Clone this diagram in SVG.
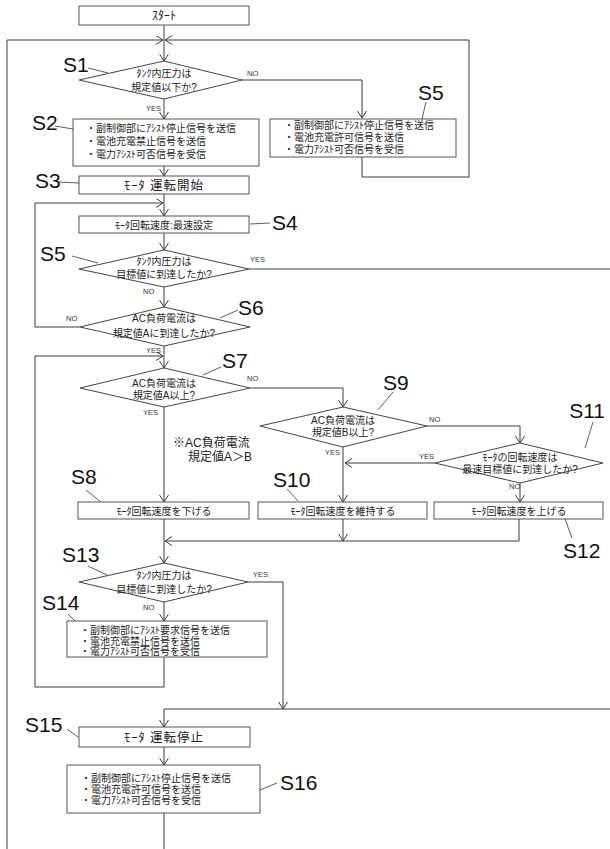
<svg xmlns="http://www.w3.org/2000/svg" width="610" height="849" viewBox="0 0 610 849">
  <style>
    .bg { fill: #ffffff; }
    .box { fill: #ffffff; stroke: #555555; stroke-width: 1; }
    .dia { fill: #ffffff; stroke: #444444; stroke-width: 1; }
    .ln { fill: none; stroke: #3a3a3a; stroke-width: 1; }
    .arr { fill: none; stroke: #3a3a3a; stroke-width: 1; marker-end: url(#ah); }
    .lead { fill: none; stroke: #333333; stroke-width: 0.8; }
    .jp { font-family: "Liberation Sans", "Noto Sans CJK JP", sans-serif; font-size: 10px; fill: #222222; }
    .mid { text-anchor: middle; }
    .end { text-anchor: end; }
    .big { font-size: 12.5px; letter-spacing: 1px; }
    .title { font-size: 12px; }
    .note { font-size: 12px; }
    .yn { font-family: "Liberation Sans", Arial, sans-serif; font-size: 7.5px; fill: #333333; }
    .step { font-family: "Liberation Sans", Arial, sans-serif; font-size: 21px; fill: #111111; }
  </style>
  <defs>
    <marker id="ah" markerUnits="userSpaceOnUse" markerWidth="10" markerHeight="10" refX="7" refY="4.5" orient="auto" viewBox="0 0 10 10">
      <path d="M0,0 L7,4.5 L0,9" fill="none" stroke="#3a3a3a" stroke-width="1"/>
    </marker>
  </defs>
  <rect class="bg" x="0" y="0" width="610" height="849"/>

  <!-- connectors -->
  <g id="connectors">
    <path class="arr" d="M164,25 V61"/>
    <path class="arr" d="M7,849 V40 H163"/>
    <path class="arr" d="M362,157 V177 H469 V40 H165"/>
    <path class="arr" d="M242,80 H362 V118"/>
    <path class="arr" d="M164,99 V119"/>
    <path class="arr" d="M164,166 V176"/>
    <path class="arr" d="M164,194 V216"/>
    <path class="arr" d="M80,327 H35 V203 H163"/>
    <path class="arr" d="M164,233 V250"/>
    <path class="ln" d="M249,269 H610"/>
    <path class="arr" d="M164,287 V307"/>
    <path class="arr" d="M164,346 V368"/>
    <path class="arr" d="M164,657 V687 H35 V356 H163"/>
    <path class="arr" d="M250,388 H343 V407"/>
    <path class="arr" d="M164,407 V502"/>
    <path class="arr" d="M427,426 H520 V443"/>
    <path class="arr" d="M343,447 V502"/>
    <path class="arr" d="M435,463 H345"/>
    <path class="arr" d="M520,483 V502"/>
    <path class="arr" d="M519,519 V541 H165"/>
    <path class="arr" d="M343,519 V541"/>
    <path class="arr" d="M164,519 V563"/>
    <path class="arr" d="M248,582 H283 V709"/>
    <path class="arr" d="M610,709 H164 V727"/>
    <path class="arr" d="M164,602 V621"/>
    <path class="arr" d="M164,747 V765"/>
    <path class="ln" d="M164,813 V849"/>
  </g>

  <!-- branch labels -->
  <g id="branch-labels">
    <text class="yn" x="247" y="76">NO</text>
    <text class="yn" x="146" y="111">YES</text>
    <text class="yn" x="250" y="262">YES</text>
    <text class="yn" x="143" y="294">NO</text>
    <text class="yn" x="66" y="321">NO</text>
    <text class="yn" x="146" y="353">YES</text>
    <text class="yn" x="247" y="381">NO</text>
    <text class="yn" x="143" y="415">YES</text>
    <text class="yn" x="429" y="422">NO</text>
    <text class="yn" x="325" y="455">YES</text>
    <text class="yn" x="419" y="459">YES</text>
    <text class="yn" x="509" y="489">NO</text>
    <text class="yn" x="253" y="577">YES</text>
    <text class="yn" x="143" y="610">NO</text>
  </g>

  <g id="start">
    <rect class="box" x="79" y="6" width="170" height="19"/>
    <text class="jp mid title" x="164" y="20">ｽﾀｰﾄ</text>
  </g>

  <g id="s1">
    <polygon class="dia" points="164,61 242,80 164,99 79,80"/>
    <text class="jp mid" x="164" y="77">ﾀﾝｸ内圧力は</text>
    <text class="jp mid" x="164" y="91">規定値以下か?</text>
    <text class="step" x="63" y="72">S1</text>
    <path class="lead" d="M88,68 L108,73"/>
  </g>

  <g id="s2">
    <rect class="box" x="73" y="119" width="186" height="47"/>
    <text class="jp" x="86" y="132">・副制御部にｱｼｽﾄ停止信号を送信</text>
    <text class="jp" x="86" y="145">・電池充電禁止信号を送信</text>
    <text class="jp" x="86" y="158">・電力ｱｼｽﾄ可否信号を受信</text>
    <text class="step" x="32" y="130">S2</text>
    <path class="lead" d="M55,126 L73,129"/>
  </g>

  <g id="s5a">
    <rect class="box" x="270" y="119" width="186" height="38"/>
    <text class="jp" x="284" y="129">・副制御部にｱｼｽﾄ停止信号を送信</text>
    <text class="jp" x="284" y="141">・電池充電許可信号を送信</text>
    <text class="jp" x="284" y="153">・電力ｱｼｽﾄ可否信号を受信</text>
    <text class="step" x="418" y="100">S5</text>
    <path class="lead" d="M426,102 L422,119"/>
  </g>

  <g id="s3">
    <rect class="box" x="79" y="176" width="170" height="18"/>
    <text class="jp mid big" x="164" y="189.5">ﾓｰﾀ 運転開始</text>
    <text class="step" x="35" y="188">S3</text>
    <path class="lead" d="M58,182 L79,183"/>
  </g>

  <g id="s4">
    <rect class="box" x="79" y="216" width="170" height="17"/>
    <text class="jp mid" x="164" y="228.5">ﾓｰﾀ回転速度:最速設定</text>
    <text class="step" x="272" y="230">S4</text>
    <path class="lead" d="M250,224 L270,223"/>
  </g>

  <g id="s5b">
    <polygon class="dia" points="164,250 249,269 164,287 79,269"/>
    <text class="jp mid" x="164" y="265">ﾀﾝｸ内圧力は</text>
    <text class="jp mid" x="164" y="278">目標値に到達したか?</text>
    <text class="step" x="40" y="261">S5</text>
    <path class="lead" d="M72,256 L98,263"/>
  </g>

  <g id="s6">
    <polygon class="dia" points="164,307 250,327 164,346 80,327"/>
    <text class="jp mid" x="164" y="322">AC負荷電流は</text>
    <text class="jp mid" x="164" y="337">規定値Aに到達したか?</text>
    <text class="step" x="238" y="315">S6</text>
    <path class="lead" d="M238,310 L220,318"/>
  </g>

  <g id="s7">
    <polygon class="dia" points="164,368 250,388 164,407 80,388"/>
    <text class="jp mid" x="164" y="387">AC負荷電流は</text>
    <text class="jp mid" x="164" y="399">規定値A以上?</text>
    <text class="step" x="222" y="368">S7</text>
    <path class="lead" d="M221,367 L203,375"/>
  </g>

  <g id="note">
    <text class="jp note" x="173" y="447">※AC負荷電流</text>
    <text class="jp note" x="188" y="461">規定値A＞B</text>
  </g>

  <g id="s9">
    <polygon class="dia" points="343,407 427,426 343,447 260,426"/>
    <text class="jp mid" x="343" y="424">AC負荷電流は</text>
    <text class="jp mid" x="343" y="436">規定値B以上?</text>
    <text class="step" x="383" y="390">S9</text>
    <path class="lead" d="M393,392 L378,410"/>
  </g>

  <g id="s11">
    <polygon class="dia" points="520,443 603,463 520,483 435,463"/>
    <text class="jp mid" x="520" y="461">ﾓｰﾀの回転速度は</text>
    <text class="jp mid" x="520" y="473">最速目標値に到達したか?</text>
    <text class="step end" x="605" y="418">S11</text>
    <path class="lead" d="M593,422 L585,448"/>
  </g>

  <g id="s8">
    <rect class="box" x="78" y="502" width="171" height="17"/>
    <text class="jp mid" x="164" y="514.5">ﾓｰﾀ回転速度を下げる</text>
    <text class="step" x="71" y="484">S8</text>
    <path class="lead" d="M86,490 L101,502"/>
  </g>

  <g id="s10">
    <rect class="box" x="258" y="502" width="169" height="17"/>
    <text class="jp mid" x="343" y="514.5">ﾓｰﾀ回転速度を維持する</text>
    <text class="step" x="273" y="487">S10</text>
    <path class="lead" d="M287,489 L298,501"/>
  </g>

  <g id="s12">
    <rect class="box" x="434" y="502" width="169" height="17"/>
    <text class="jp mid" x="519" y="514.5">ﾓｰﾀ回転速度を上げる</text>
    <text class="step" x="563" y="558">S12</text>
    <path class="lead" d="M565,519 L572,538"/>
  </g>

  <g id="s13">
    <polygon class="dia" points="164,563 248,582 164,602 79,582"/>
    <text class="jp mid" x="164" y="579">ﾀﾝｸ内圧力は</text>
    <text class="jp mid" x="164" y="593">目標値に到達したか?</text>
    <text class="step" x="62" y="562">S13</text>
    <path class="lead" d="M88,566 L107,575"/>
  </g>

  <g id="s14">
    <rect class="box" x="67" y="621" width="200" height="36"/>
    <text class="jp" x="80" y="634">・副制御部にｱｼｽﾄ要求信号を送信</text>
    <text class="jp" x="80" y="644.5">・電池充電禁止信号を送信</text>
    <text class="jp" x="80" y="655">・電力ｱｼｽﾄ可否信号を受信</text>
    <text class="step" x="42" y="610">S14</text>
    <path class="lead" d="M68,614 L75,621"/>
  </g>

  <g id="s15">
    <rect class="box" x="79" y="727" width="171" height="20"/>
    <text class="jp mid big" x="164" y="741.5">ﾓｰﾀ 運転停止</text>
    <text class="step" x="25" y="732">S15</text>
    <path class="lead" d="M67,729 L78,737"/>
  </g>

  <g id="s16">
    <rect class="box" x="67" y="765" width="193" height="48"/>
    <text class="jp" x="81" y="782">・副制御部にｱｼｽﾄ停止信号を送信</text>
    <text class="jp" x="81" y="793">・電池充電許可信号を送信</text>
    <text class="jp" x="81" y="804">・電力ｱｼｽﾄ可否信号を受信</text>
    <text class="step" x="280" y="790">S16</text>
    <path class="lead" d="M260,790 L277,783"/>
  </g>
</svg>
